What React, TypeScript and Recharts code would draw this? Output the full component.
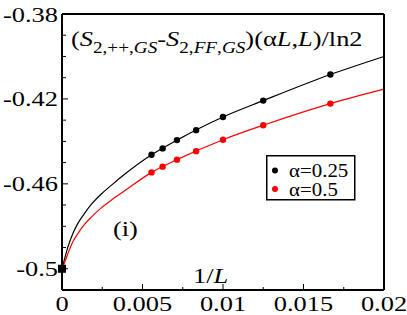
import React from "react"
import { ComposedChart, Line, Scatter, XAxis, YAxis, Legend } from "recharts"

// 1/L values of the computed points (L = 180, 160, 140, 120, 100, 80, 60)
const invL = [0.00556, 0.00625, 0.00714, 0.00833, 0.01, 0.0125, 0.01667]
const alpha025 = [-0.4463, -0.4433, -0.4394, -0.4347, -0.4285, -0.4208, -0.4085]
const alpha05 = [-0.4546, -0.4519, -0.4486, -0.4446, -0.4392, -0.4324, -0.4222]

// fitted curves
const fitX025 = [0, 0.000168, 0.000373, 0.000683, 0.000994, 0.00141, 0.00182, 0.00244, 0.00306, 0.00379, 0.00556, 0.00714, 0.01, 0.0125, 0.01667, 0.02]
const fit025 = [-0.5, -0.4951, -0.4896, -0.4833, -0.4785, -0.4738, -0.4697, -0.4648, -0.4607, -0.4561, -0.4463, -0.4394, -0.4285, -0.4208, -0.4085, -0.4]
const fitX05 = [0, 0.000168, 0.000373, 0.000683, 0.000994, 0.00141, 0.00182, 0.00244, 0.00306, 0.00389, 0.00556, 0.00714, 0.01, 0.0125, 0.01667, 0.02]
const fit05 = [-0.5, -0.4969, -0.4927, -0.4872, -0.4833, -0.479, -0.4757, -0.4713, -0.4677, -0.4633, -0.4546, -0.4486, -0.4392, -0.4324, -0.4222, -0.4154]

const limitPoint = [{ x: 0, y: -0.5 }]

const xTicks = [0, 0.0025, 0.005, 0.0075, 0.01, 0.0125, 0.015, 0.0175, 0.02]
const xLabels = ["0", "0.005", "0.01", "0.015", "0.02"]
const xMajor = [0, 0.005, 0.01, 0.015, 0.02]
const yTicks = [-0.5, -0.49, -0.48, -0.47, -0.46, -0.45, -0.44, -0.43, -0.42, -0.41, -0.4, -0.39, -0.38]
const yLabels = ["-0.5", "-0.46", "-0.42", "-0.38"]
const yMajor = [-0.5, -0.46, -0.42, -0.38]

const seriesNames = ["α=0.25", "α=0.5"]
const seriesColors = ["#000000", "#ff0000"]

const pts = (xs: number[], ys: number[]) => xs.map((x, i) => ({ x, y: ys[i] }))

const FONT = "'Liberation Serif', 'Times New Roman', serif"

const labelOf = (v: number, major: number[], labels: string[]) => {
  const i = major.findIndex((m) => Math.abs(m - v) < 1e-9)
  return i >= 0 ? labels[i] : null
}

const BottomTick = (p: any) => {
  const lab = labelOf(p.payload.value, xMajor, xLabels)
  return (
    <g>
      <line x1={p.x} y1={p.y} x2={p.x} y2={p.y - (lab ? 6 : 3)} stroke="#000" strokeWidth={1} />
      {lab && (
        <text transform={`translate(${p.x},${p.y + 21}) scale(1.2,1)`} textAnchor="middle" fontSize={22} fontFamily={FONT} fill="#000">
          {lab}
        </text>
      )}
    </g>
  )
}

const TopTick = (p: any) => (
  <line x1={p.x} y1={p.y} x2={p.x} y2={p.y + 4} stroke="#000" strokeWidth={1} />
)

const LeftTick = (p: any) => {
  const lab = labelOf(p.payload.value, yMajor, yLabels)
  return (
    <g>
      <line x1={p.x} y1={p.y} x2={p.x + (lab ? 6 : 4)} y2={p.y} stroke="#000" strokeWidth={1} />
      {lab && (
        <text transform={`translate(${p.x - 4},${p.y + 7.5}) scale(1.2,1)`} textAnchor="end" fontSize={22} fontFamily={FONT} fill="#000">
          {lab}
        </text>
      )}
    </g>
  )
}

const RightTick = (p: any) => (
  <line x1={p.x} y1={p.y} x2={p.x - 5} y2={p.y} stroke="#000" strokeWidth={1} />
)

const dot = (color: string) => (p: any) => <circle cx={p.cx} cy={p.cy} r={3.2} fill={color} />
const square = (p: any) => <rect x={p.cx - 4} y={p.cy - 4} width={8} height={8} fill="#000" />

const LegendBox = () => (
  <svg width={90} height={46} style={{ display: "block" }}>
    <rect x={0.75} y={0.75} width={88} height={44} fill="#fff" stroke="#000" strokeWidth={1.5} />
    {seriesNames.map((n, i) => (
      <g key={n}>
        <circle cx={9} cy={15.5 + i * 18.6} r={3} fill={seriesColors[i]} />
        <text transform={`translate(23,${21.5 + i * 19}) scale(1.1,1)`} fontSize={19} fontFamily={FONT} fill="#000">
          {n}
        </text>
      </g>
    ))}
  </svg>
)

export default function App() {
  return (
    <div style={{ position: "absolute", left: 0, top: 0, width: 407, height: 315, background: "#fff" }}>
      <ComposedChart width={407} height={315} margin={{ top: 13, right: 22, bottom: 24, left: 61 }}>
        <XAxis
          xAxisId={0}
          type="number"
          dataKey="x"
          domain={[0, 0.02]}
          ticks={xTicks}
          interval={0}
          height={1}
          tickSize={0}
          tickMargin={0}
          tickLine={false}
          axisLine={{ stroke: "#000", strokeWidth: 2 }}
          tick={BottomTick}
        />
        <XAxis
          xAxisId="top"
          orientation="top"
          type="number"
          dataKey="x"
          domain={[0, 0.02]}
          ticks={xTicks}
          interval={0}
          height={1}
          tickSize={0}
          tickMargin={0}
          tickLine={false}
          axisLine={{ stroke: "#000", strokeWidth: 2 }}
          tick={TopTick}
        />
        <YAxis
          yAxisId={0}
          type="number"
          dataKey="y"
          domain={[-0.51, -0.38]}
          ticks={yTicks}
          interval={0}
          width={1}
          tickSize={0}
          tickMargin={0}
          tickLine={false}
          axisLine={{ stroke: "#000", strokeWidth: 2 }}
          tick={LeftTick}
        />
        <YAxis
          yAxisId="right"
          orientation="right"
          type="number"
          dataKey="y"
          domain={[-0.51, -0.38]}
          ticks={yTicks}
          interval={0}
          width={1}
          tickSize={0}
          tickMargin={0}
          tickLine={false}
          axisLine={{ stroke: "#000", strokeWidth: 2 }}
          tick={RightTick}
        />
        <Line data={pts(fitX025, fit025)} dataKey="y" type="monotone" stroke="#000" strokeWidth={1.2} dot={false} legendType="none" isAnimationActive={false} />
        <Line data={pts(fitX05, fit05)} dataKey="y" type="monotone" stroke="#ff0000" strokeWidth={1.2} dot={false} legendType="none" isAnimationActive={false} />
        <Scatter data={pts(invL, alpha025)} name={seriesNames[0]} fill={seriesColors[0]} shape={dot(seriesColors[0])} isAnimationActive={false} />
        <Scatter data={pts(invL, alpha05)} name={seriesNames[1]} fill={seriesColors[1]} shape={dot(seriesColors[1])} isAnimationActive={false} />
        <Scatter data={limitPoint} shape={square} legendType="none" isAnimationActive={false} />
        <Legend
          layout="horizontal"
          verticalAlign="middle"
          align="center"
          content={LegendBox}
          wrapperStyle={{ position: "absolute", left: 266, top: 155, width: 90, height: 46 }}
        />
      </ComposedChart>
      <svg width={407} height={315} style={{ position: "absolute", left: 0, top: 0, pointerEvents: "none" }}>
        <text transform="translate(71,46) scale(1.2,1)" fontSize={22} fontFamily={FONT} fill="#000">
          <tspan>(</tspan>
          <tspan fontStyle="italic">S</tspan>
          <tspan fontSize={16} dy={7}>2,++,</tspan>
          <tspan fontSize={16} fontStyle="italic">GS</tspan>
          <tspan dy={-7}>-</tspan>
          <tspan fontStyle="italic">S</tspan>
          <tspan fontSize={16} dy={7}>2,</tspan>
          <tspan fontSize={16} fontStyle="italic">FF</tspan>
          <tspan fontSize={16}>,</tspan>
          <tspan fontSize={16} fontStyle="italic">GS</tspan>
          <tspan dy={-7}>)(α</tspan>
          <tspan fontStyle="italic">L</tspan>
          <tspan>,</tspan>
          <tspan fontStyle="italic">L</tspan>
          <tspan>)/ln2</tspan>
        </text>
        <text transform="translate(113,236) scale(1.2,1)" fontSize={22} fontFamily={FONT} fill="#000">(i)</text>
        <text transform="translate(193,283) scale(1.2,1)" fontSize={22} fontFamily={FONT} fill="#000">
          1/<tspan fontStyle="italic">L</tspan>
        </text>
      </svg>
    </div>
  )
}
